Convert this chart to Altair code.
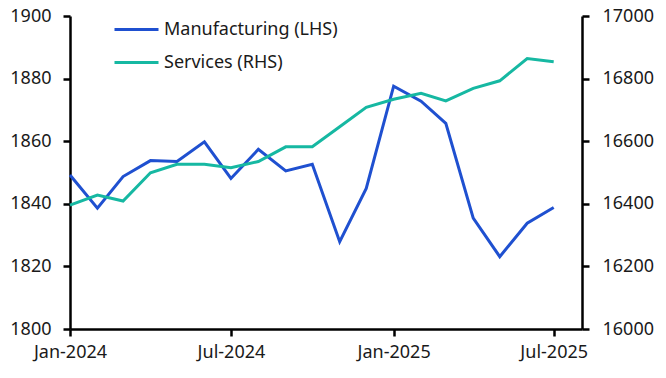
import altair as alt
import pandas as pd

months = ["2024-01-01", "2024-02-01", "2024-03-01", "2024-04-01", "2024-05-01", "2024-06-01",
          "2024-07-01", "2024-08-01", "2024-09-01", "2024-10-01", "2024-11-01", "2024-12-01",
          "2025-01-01", "2025-02-01", "2025-03-01", "2025-04-01", "2025-05-01", "2025-06-01",
          "2025-07-01"]
manufacturing = [1849.2, 1838.6, 1848.7, 1853.8, 1853.5, 1859.8, 1848.1, 1857.4, 1850.5, 1852.6,
                 1827.9, 1844.9, 1877.6, 1872.8, 1865.7, 1835.4, 1823.1, 1833.8, 1838.8]
services = [16396, 16428, 16409, 16499, 16526, 16526, 16515, 16535, 16582, 16582,
            16646, 16708, 16734, 16753, 16729, 16769, 16793, 16864, 16854]
series_names = ["Manufacturing (LHS)", "Services (RHS)"]
series_colors = ["#1F50D0", "#16B8A2"]
left_ticks = [1800, 1820, 1840, 1860, 1880, 1900]
right_ticks = [16000, 16200, 16400, 16600, 16800, 17000]

df_m = pd.DataFrame({"date": months, "value": manufacturing, "series": series_names[0]})
df_s = pd.DataFrame({"date": months, "value": services, "series": series_names[1]})

FONT = "Noto Sans"

x_enc = alt.X(
    "date:T",
    scale=alt.Scale(type="utc", domain=[alt.DateTime(year=2024, month=1, date=1, utc=True),
                                        alt.DateTime(year=2025, month=8, date=2, utc=True)]),
    axis=alt.Axis(
        title=None,
        labelExpr="utcFormat(datum.value, '%b-%Y')",
        values=[alt.DateTime(year=2024, month=1, date=1, utc=True),
                alt.DateTime(year=2024, month=7, date=1, utc=True),
                alt.DateTime(year=2025, month=1, date=1, utc=True),
                alt.DateTime(year=2025, month=7, date=1, utc=True)],
        labelPadding=7, labelFlush=False, labelOverlap=False,
    ),
)

color_enc = alt.Color(
    "series:N",
    scale=alt.Scale(domain=series_names, range=series_colors),
    legend=alt.Legend(
        title=None, orient="none", legendX=43, legendY=-10,
        symbolType="stroke", symbolSize=1936, symbolStrokeWidth=3,
        labelFontSize=18, labelFont=FONT, labelColor="#1a1a1a", labelOffset=4,
        labelLimit=400, rowPadding=-7,
    ),
)

manu = alt.Chart(df_m).mark_line(strokeWidth=3).encode(
    x=x_enc,
    y=alt.Y("value:Q", scale=alt.Scale(domain=[1800, 1900], nice=False, zero=False),
            axis=alt.Axis(title=None, orient="left", values=left_ticks, format="d",
                          labelPadding=12)),
    color=color_enc,
)

serv = alt.Chart(df_s).mark_line(strokeWidth=3).encode(
    x=x_enc,
    y=alt.Y("value:Q", scale=alt.Scale(domain=[16000, 17000], nice=False, zero=False),
            axis=alt.Axis(title=None, orient="right", values=right_ticks, format="d",
                          labelPadding=13)),
    color=color_enc,
)

chart = alt.layer(manu, serv).resolve_scale(y="independent").properties(
    width=512, height=313,
    autosize=alt.AutoSizeParams(type="none"),
    padding={"left": 62, "top": 8, "right": 76, "bottom": 44},
).configure_view(stroke=None).configure_axis(
    grid=False, domainColor="black", domainWidth=2.5, tickColor="black", tickWidth=2.5,
    tickSize=7, labelFontSize=18, labelFont=FONT, labelColor="#1a1a1a",
)

chart.save("out.html", embed_options={"renderer": "svg", "actions": False})
